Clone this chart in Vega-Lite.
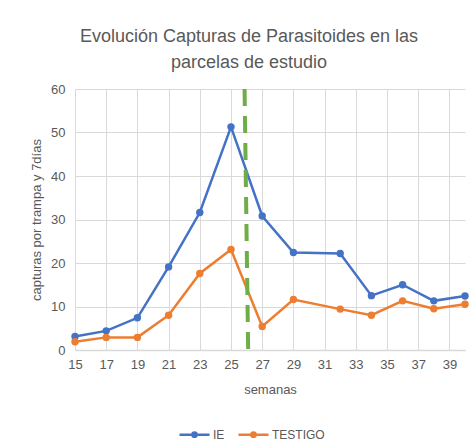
{
  "$schema": "https://vega.github.io/schema/vega-lite/v6.json",
  "width": 390,
  "height": 261,
  "autosize": "none",
  "padding": {"left": 75, "top": 89, "right": 8, "bottom": 93},
  "background": "white",
  "config": {
    "font": "Liberation Sans",
    "view": {"stroke": null},
    "axis": {"labelColor": "#595959", "titleColor": "#595959", "labelFontSize": 13, "titleFontSize": 13, "titleFontWeight": "normal", "gridColor": "#D9D9D9", "gridWidth": 1, "ticks": false, "domain": false}
  },
  "title": {
    "text": ["Evolución Capturas de Parasitoides en las", "parcelas de estudio"],
    "fontSize": 18,
    "fontWeight": "normal",
    "color": "#595959",
    "font": "Liberation Sans",
    "lineHeight": 26,
    "anchor": "middle",
    "dx": -21,
    "offset": 9
  },
  "datasets": {
    "series": [
      {"semana": 15, "serie": "IE", "valor": 3.1},
      {"semana": 17, "serie": "IE", "valor": 4.4},
      {"semana": 19, "serie": "IE", "valor": 7.4},
      {"semana": 21, "serie": "IE", "valor": 19.1},
      {"semana": 23, "serie": "IE", "valor": 31.6},
      {"semana": 25, "serie": "IE", "valor": 51.3},
      {"semana": 27, "serie": "IE", "valor": 30.8},
      {"semana": 29, "serie": "IE", "valor": 22.4},
      {"semana": 32, "serie": "IE", "valor": 22.2},
      {"semana": 34, "serie": "IE", "valor": 12.5},
      {"semana": 36, "serie": "IE", "valor": 15.0},
      {"semana": 38, "serie": "IE", "valor": 11.3},
      {"semana": 40, "serie": "IE", "valor": 12.4},
      {"semana": 15, "serie": "TESTIGO", "valor": 1.9},
      {"semana": 17, "serie": "TESTIGO", "valor": 2.9},
      {"semana": 19, "serie": "TESTIGO", "valor": 2.9},
      {"semana": 21, "serie": "TESTIGO", "valor": 8.0},
      {"semana": 23, "serie": "TESTIGO", "valor": 17.6},
      {"semana": 25, "serie": "TESTIGO", "valor": 23.1},
      {"semana": 27, "serie": "TESTIGO", "valor": 5.4},
      {"semana": 29, "serie": "TESTIGO", "valor": 11.6},
      {"semana": 32, "serie": "TESTIGO", "valor": 9.4},
      {"semana": 34, "serie": "TESTIGO", "valor": 8.0},
      {"semana": 36, "serie": "TESTIGO", "valor": 11.3},
      {"semana": 38, "serie": "TESTIGO", "valor": 9.5},
      {"semana": 40, "serie": "TESTIGO", "valor": 10.5}
    ],
    "corte": [
      {"semana": 25.87, "valor": 60},
      {"semana": 26.1, "valor": 0}
    ]
  },
  "layer": [
    {
      "data": {"name": "series"},
      "mark": {"type": "line", "strokeWidth": 2.5, "point": {"size": 55, "filled": true}},
      "encoding": {
        "x": {
          "field": "semana", "type": "quantitative",
          "scale": {"domain": [15, 40], "nice": false, "zero": false},
          "axis": {"title": "semanas", "values": [15, 17, 19, 21, 23, 25, 27, 29, 31, 33, 35, 37, 39], "tickCount": 30, "labelOverlap": false, "labelFlush": false, "labelBound": false, "labelPadding": 8, "titlePadding": 12, "domain": true, "domainColor": "#D9D9D9", "domainWidth": 1.5}
        },
        "y": {
          "field": "valor", "type": "quantitative",
          "scale": {"domain": [0, 60], "nice": false},
          "axis": {"title": "capturas por trampa y 7días", "values": [0, 10, 20, 30, 40, 50, 60], "tickCount": 10, "labelOverlap": false, "labelPadding": 10, "titlePadding": 7}
        },
        "color": {
          "field": "serie", "type": "nominal",
          "scale": {"domain": ["IE", "TESTIGO"], "range": ["#4472C4", "#ED7D31"]},
          "legend": {
            "title": null,
            "orient": "none",
            "legendX": 103,
            "legendY": 329,
            "direction": "horizontal",
            "labelColor": "#595959",
            "labelFontSize": 12,
            "symbolType": "M-1,0L1,0M-0.14,0A0.14,0.14,0,1,0,0.14,0A0.14,0.14,0,1,0,-0.14,0",
            "symbolSize": 900,
            "symbolStrokeWidth": 2.5,
            "columnPadding": 8,
            "labelOffset": 2
          }
        }
      }
    },
    {
      "data": {"name": "corte"},
      "mark": {"type": "line", "color": "#70AD47", "strokeWidth": 4, "strokeDash": [17, 10]},
      "encoding": {
        "x": {"field": "semana", "type": "quantitative"},
        "y": {"field": "valor", "type": "quantitative"}
      }
    }
  ]
}
